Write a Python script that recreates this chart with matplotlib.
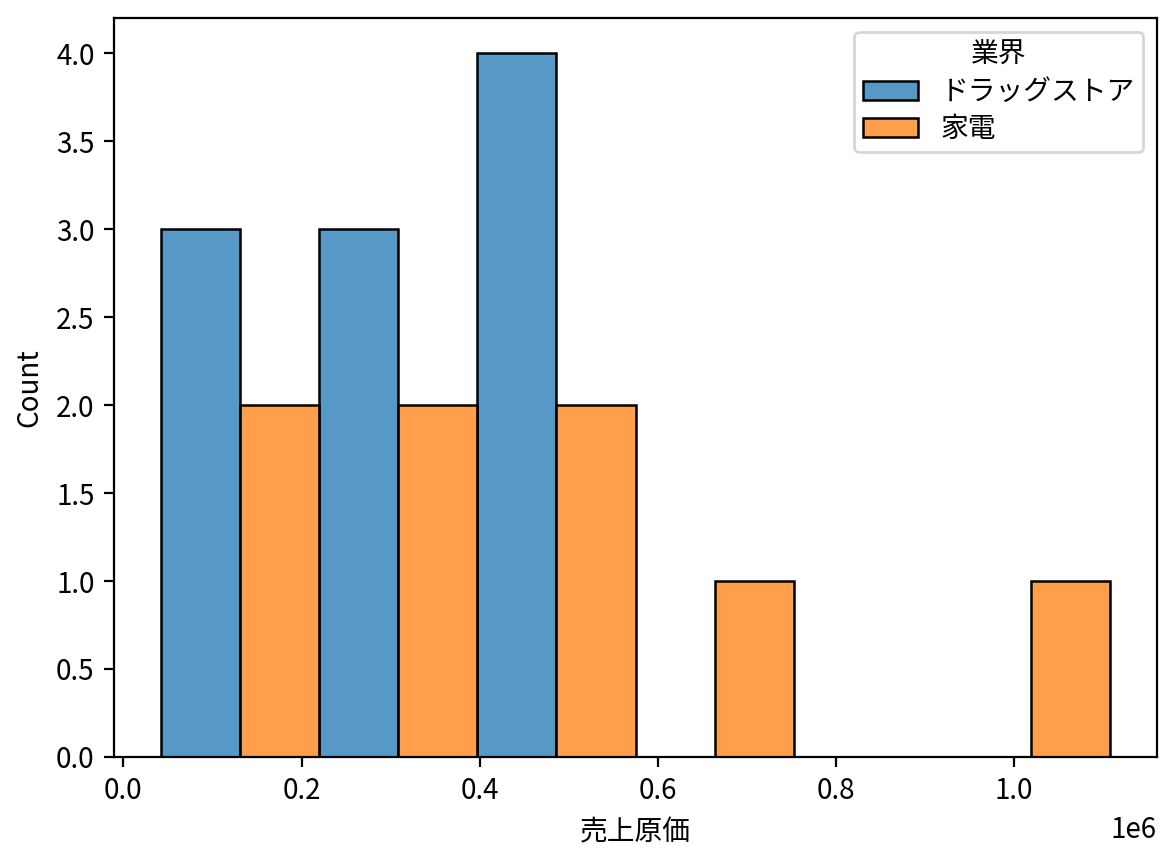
import matplotlib
matplotlib.use('Agg')
import matplotlib.pyplot as plt
from matplotlib.colors import to_rgba
import numpy as np

plt.rcParams['font.family'] = ['Noto Sans CJK JP', 'DejaVu Sans']

# bin edges of the histogram (売上原価), counts per industry in each bin
bin_edges = np.array([0.0427, 0.2193, 0.397, 0.575, 0.7525, 0.930, 1.107]) * 1e6
drug_counts = [3, 3, 4, 0, 0, 0]
kaden_counts = [2, 2, 2, 1, 0, 1]
industries = ['ドラッグストア', '家電']
colors = ['#1f77b4', '#ff7f0e']

fig = plt.figure(figsize=(5.87, 4.28), dpi=200)
ax = fig.add_axes([0.0971, 0.1157, 0.8884, 0.8633])

widths = np.diff(bin_edges) / 2
left = bin_edges[:-1]
for i, (counts, name) in enumerate(zip([drug_counts, kaden_counts], industries)):
    c = np.array(counts)
    keep = c > 0
    ax.bar(left[keep] + i * widths[keep], c[keep], width=widths[keep], align='edge',
           color=to_rgba(colors[i], 0.75), edgecolor='black', linewidth=0.9, label=name)

rng = bin_edges[-1] - bin_edges[0]
ax.set_xlim(bin_edges[0] - 0.05 * rng, bin_edges[-1] + 0.05 * rng)
ax.set_ylim(0, 4.2)
ax.set_xlabel('売上原価')
ax.set_ylabel('Count')
ax.tick_params(labelsize=10)
ax.legend(title='業界', loc='upper right', labelspacing=0.25, borderpad=0.3)

fig.savefig('out.png', dpi=200)
